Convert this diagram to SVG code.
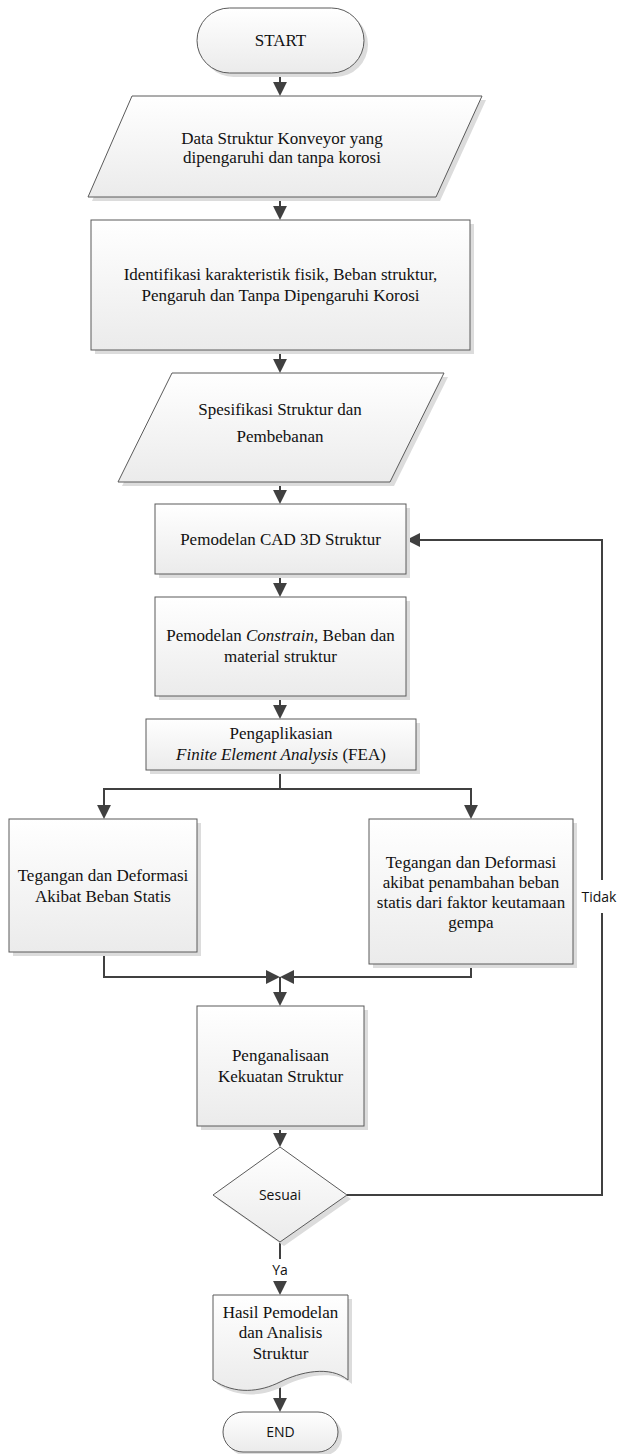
<svg xmlns="http://www.w3.org/2000/svg" width="621" height="1454" viewBox="0 0 621 1454">
<style>
.shape{fill:url(#g);stroke:#5a5a5a;stroke-width:1}
.sh{fill:#dcdcdc;stroke:none}
.t{font-family:"Liberation Serif","Times New Roman",serif;font-size:17px;fill:#111;text-anchor:middle}
.s{font-family:"Open Sans","Liberation Sans",Arial,sans-serif;font-size:14px;fill:#111;text-anchor:middle}
.c{fill:none;stroke:#404040;stroke-width:2}
.a{marker-end:url(#ah)}
</style>
<defs>
<linearGradient id="g" x1="0" y1="0" x2="0" y2="1">
<stop offset="0" stop-color="#ffffff"/>
<stop offset="1" stop-color="#ebebeb"/>
</linearGradient>
<marker id="ah" viewBox="0 0 10 10" markerWidth="14" markerHeight="14" markerUnits="userSpaceOnUse" refX="7.2" refY="5" orient="auto">
<path d="M0,0 L10,5 L0,10 z" fill="#404040"/>
</marker>
</defs>
<rect width="621" height="1454" fill="#ffffff"/>

<g id="connectors">
<path class="c a" d="M280,73 V92"/>
<path class="c a" d="M280,197 V216"/>
<path class="c a" d="M280,350 V369"/>
<path class="c a" d="M280,482 V500"/>
<path class="c a" d="M280,574 V593"/>
<path class="c a" d="M280,696 V715"/>
<path class="c" d="M280,770 V789"/>
<path class="c a" d="M280,789 H104 V815"/>
<path class="c a" d="M280,789 H471 V815"/>
<path class="c a" d="M104,952 V977 H276"/>
<path class="c a" d="M471,964 V977 H284"/>
<path class="c a" d="M280,977 V1002"/>
<path class="c a" d="M280,1126 V1143"/>
<path class="c a" d="M347,1195 H602 V540 H410"/>
<path class="c a" d="M280,1242 V1291"/>
<path class="c a" d="M280,1386 V1408"/>
<rect x="578" y="880" width="42" height="33" fill="#ffffff"/>
<text class="s" x="599" y="902">Tidak</text>
<rect x="268" y="1259" width="24" height="22" fill="#ffffff"/>
<text class="s" x="280" y="1275">Ya</text>
</g>

<g id="start">
<rect class="sh" x="201" y="12" width="167" height="65" rx="32.5"/>
<rect class="shape" x="197" y="8" width="167" height="65" rx="32.5"/>
<text class="t" x="280.5" y="46">START</text>
</g>

<g id="data">
<polygon class="sh" points="136,100 486,100 440,201 92,201"/>
<polygon class="shape" points="132,96 482,96 436,197 88,197"/>
<text class="t" x="282" y="144">Data Struktur Konveyor yang</text>
<text class="t" x="282" y="163">dipengaruhi dan tanpa korosi</text>
</g>

<g id="identifikasi">
<rect class="sh" x="95" y="224" width="379" height="130"/>
<rect class="shape" x="91" y="220" width="379" height="130"/>
<text class="t" x="280.5" y="280">Identifikasi karakteristik fisik, Beban struktur,</text>
<text class="t" x="280.5" y="301">Pengaruh dan Tanpa Dipengaruhi Korosi</text>
</g>

<g id="spesifikasi">
<polygon class="sh" points="176,377 448,377 394,486 122,486"/>
<polygon class="shape" points="172,373 444,373 390,482 118,482"/>
<text class="t" x="280" y="415">Spesifikasi Struktur dan</text>
<text class="t" x="280" y="442">Pembebanan</text>
</g>

<g id="cad">
<rect class="sh" x="159" y="508" width="251" height="70"/>
<rect class="shape" x="155" y="504" width="251" height="70"/>
<text class="t" x="280.5" y="545">Pemodelan CAD 3D Struktur</text>
</g>

<g id="constrain">
<rect class="sh" x="159" y="601" width="251" height="99"/>
<rect class="shape" x="155" y="597" width="251" height="99"/>
<text class="t" x="280.5" y="641">Pemodelan <tspan font-style="italic">Constrain</tspan>, Beban dan</text>
<text class="t" x="280.5" y="662">material struktur</text>
</g>

<g id="fea">
<rect class="sh" x="150" y="723" width="270" height="51"/>
<rect class="shape" x="146" y="719" width="270" height="51"/>
<text class="t" x="281" y="739">Pengaplikasian</text>
<text class="t" x="281" y="760"><tspan font-style="italic">Finite Element Analysis</tspan> (FEA)</text>
</g>

<g id="statis">
<rect class="sh" x="13" y="823" width="188" height="133"/>
<rect class="shape" x="9" y="819" width="188" height="133"/>
<text class="t" x="103" y="881">Tegangan dan Deformasi</text>
<text class="t" x="103" y="902">Akibat Beban Statis</text>
</g>

<g id="gempa">
<rect class="sh" x="373" y="823" width="204" height="145"/>
<rect class="shape" x="369" y="819" width="204" height="145"/>
<text class="t" x="471" y="868">Tegangan dan Deformasi</text>
<text class="t" x="471" y="888">akibat penambahan beban</text>
<text class="t" x="471" y="908">statis dari faktor keutamaan</text>
<text class="t" x="471" y="928">gempa</text>
</g>

<g id="analisa">
<rect class="sh" x="201" y="1010" width="167" height="120"/>
<rect class="shape" x="197" y="1006" width="167" height="120"/>
<text class="t" x="280.5" y="1061">Penganalisaan</text>
<text class="t" x="280.5" y="1082">Kekuatan Struktur</text>
</g>

<g id="sesuai">
<polygon class="sh" points="284,1151 351,1199 284,1246 217,1199"/>
<polygon class="shape" points="280,1147 347,1195 280,1242 213,1195"/>
<text class="s" x="280" y="1200">Sesuai</text>
</g>

<g id="hasil">
<path class="sh" d="M217,1299 H352 V1384 C334,1369 304,1376 284,1386 C264,1396 239,1399 217,1384 Z"/>
<path class="shape" d="M213,1295 H348 V1380 C330,1365 300,1372 280,1382 C260,1392 235,1395 213,1380 Z"/>
<text class="t" x="280.5" y="1318">Hasil Pemodelan</text>
<text class="t" x="280.5" y="1338">dan Analisis</text>
<text class="t" x="280.5" y="1359">Struktur</text>
</g>

<g id="end">
<rect class="sh" x="227" y="1416" width="115" height="40" rx="20"/>
<rect class="shape" x="223" y="1412" width="115" height="40" rx="20"/>
<text class="s" x="280.5" y="1437">END</text>
</g>
</svg>
